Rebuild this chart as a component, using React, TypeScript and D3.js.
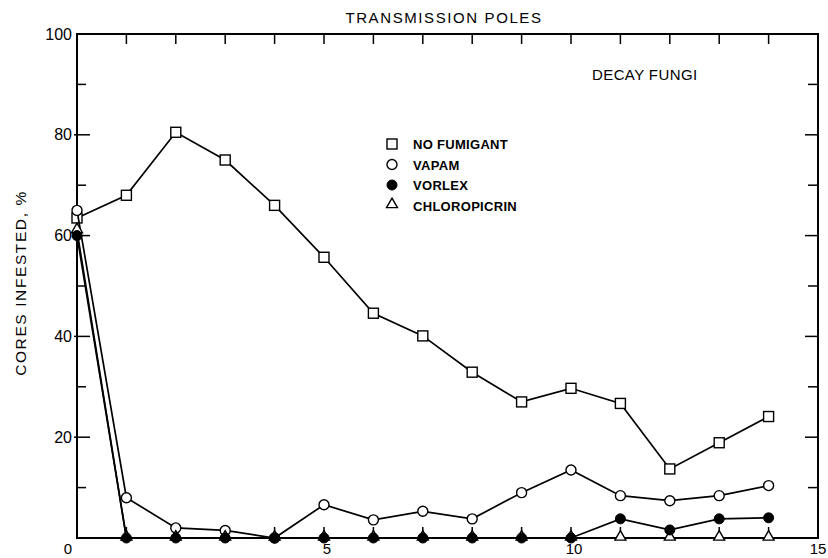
import React from 'react';
import * as d3 from 'd3';

// years after fumigation
const years = [0, 1, 2, 3, 4, 5, 6, 7, 8, 9, 10, 11, 12, 13, 14];

// cores infested, %
const noFumigant = [63.5, 68, 80.5, 75, 66, 55.7, 44.6, 40.1, 32.9, 27, 29.7, 26.7, 13.7, 18.9, 24.1];
const vapam = [65, 8, 2, 1.5, 0, 6.6, 3.6, 5.3, 3.8, 9, 13.5, 8.4, 7.4, 8.4, 10.4];
const vorlex = [60, 0, 0, 0, 0, 0, 0, 0, 0, 0, 0, 3.8, 1.6, 3.8, 4];
const chloropicrin = [61, 0, 0, 0, 0, 0, 0, 0, 0, 0, 0, 0, 0, 0, 0];

const xTickLabels = [5, 10, 15];
const yTickLabels = [20, 40, 60, 80, 100];
const yMinorTicks = [10, 20, 30, 40, 50, 60, 70, 80, 90];
const xMinorTicks = [1, 2, 3, 4, 5, 6, 7, 8, 9, 10, 11, 12, 13, 14];

const legendItems = [
  { label: 'NO FUMIGANT', marker: 'square' },
  { label: 'VAPAM', marker: 'circle' },
  { label: 'VORLEX', marker: 'dot' },
  { label: 'CHLOROPICRIN', marker: 'triangle' },
];

const W = 828;
const H = 558;
const font = '"Liberation Sans", Arial, sans-serif';

const x = d3.scaleLinear().domain([0, 15]).range([77, 818]);
const y = d3.scaleLinear().domain([0, 100]).range([538, 34]);

const Marker = ({ kind, cx, cy }: { kind: string; cx: number; cy: number }) => {
  if (kind === 'square') {
    return <rect x={cx - 5} y={cy - 5} width={10} height={10} fill="#fff" stroke="#000" strokeWidth={1.4} />;
  }
  if (kind === 'circle') {
    return <circle cx={cx} cy={cy} r={5} fill="#fff" stroke="#000" strokeWidth={1.4} />;
  }
  if (kind === 'dot') {
    return <circle cx={cx} cy={cy} r={5} fill="#000" stroke="#000" strokeWidth={1} />;
  }
  const tri = d3.symbol().type(d3.symbolTriangle).size(52)();
  return <path d={tri || ''} transform={`translate(${cx},${cy - 1})`} fill="#fff" stroke="#000" strokeWidth={1.4} />;
};

// drawn in this order so the vorlex dots sit over the chloropicrin triangles on the axis
const seriesList = [
  { values: noFumigant, marker: 'square' },
  { values: vapam, marker: 'circle' },
  { values: chloropicrin, marker: 'triangle' },
  { values: vorlex, marker: 'dot' },
];

export default function App() {
  const line = d3.line<number>()
    .x((_, i) => x(years[i]))
    .y(d => y(d));

  const x0 = x(0);
  const x1 = x(15);
  const y0 = y(0);
  const y1 = y(100);

  return (
    <div style={{ position: 'absolute', left: 0, top: 0 }}>
      <svg width={W} height={H} style={{ display: 'block', background: '#fff' }} fontFamily={font}>
        {/* title */}
        <text x={444} y={23} textAnchor="middle" fontSize={15} letterSpacing={1.6} fill="#000">
          TRANSMISSION POLES
        </text>

        {/* frame */}
        <rect x={x0} y={y1} width={x1 - x0} height={y0 - y1} fill="none" stroke="#000" strokeWidth={2} />

        {/* top ticks */}
        {xMinorTicks.map(t => (
          <line key={'tt' + t} x1={x(t)} x2={x(t)} y1={y1} y2={y1 + 10} stroke="#000" strokeWidth={1.5} />
        ))}
        {/* bottom ticks */}
        {xMinorTicks.map(t => (
          <line key={'bt' + t} x1={x(t)} x2={x(t)} y1={y0} y2={y0 - 11} stroke="#000" strokeWidth={1.5} />
        ))}
        {/* left / right ticks */}
        {yMinorTicks.map(t => {
          const major = t % 20 === 0;
          return (
            <g key={'yt' + t}>
              <line x1={major ? x0 - 3 : x0} x2={x0 + (major ? 13 : 9)} y1={y(t)} y2={y(t)} stroke="#000" strokeWidth={1.5} />
              <line x1={x1} x2={x1 - (major ? 13 : 10)} y1={y(t)} y2={y(t)} stroke="#000" strokeWidth={1.5} />
            </g>
          );
        })}

        {/* tick labels */}
        {yTickLabels.map(t => (
          <text key={'yl' + t} x={x0 - 5} y={y(t) + 5.5} textAnchor="end" fontSize={16} fill="#000">
            {t}
          </text>
        ))}
        <text x={x0 - 9} y={y0 + 16} textAnchor="middle" fontSize={15} fill="#000">0</text>
        {xTickLabels.map(t => (
          <text key={'xl' + t} x={x(t)} dx={t === 15 ? 0 : 3} y={y0 + 16} textAnchor="middle" fontSize={15} fill="#000">
            {t}
          </text>
        ))}

        {/* y axis title */}
        <text
          transform={`translate(26,${283}) rotate(-90)`}
          textAnchor="middle"
          fontSize={15.5}
          letterSpacing={1.6}
          fill="#000"
        >
          CORES INFESTED, %
        </text>

        {/* annotation */}
        <text x={592} y={80} fontSize={15} letterSpacing={0.4} fill="#000">DECAY FUNGI</text>

        {/* series */}
        {seriesList.map((s, si) => (
          <g key={'s' + si}>
            <path d={line(s.values) || ''} fill="none" stroke="#000" strokeWidth={1.7} />
            {s.values.map((v, i) => (
              <Marker key={i} kind={s.marker} cx={x(years[i])} cy={y(v)} />
            ))}
          </g>
        ))}

        {/* legend */}
        {legendItems.map((item, i) => (
          <g key={'lg' + i} transform={`translate(392,${144 + i * 20.5})`}>
            <Marker kind={item.marker} cx={0} cy={0} />
            <text x={21} y={5} fontSize={13} fontWeight={700} letterSpacing={0.3} fill="#000">
              {item.label}
            </text>
          </g>
        ))}
      </svg>
    </div>
  );
}
